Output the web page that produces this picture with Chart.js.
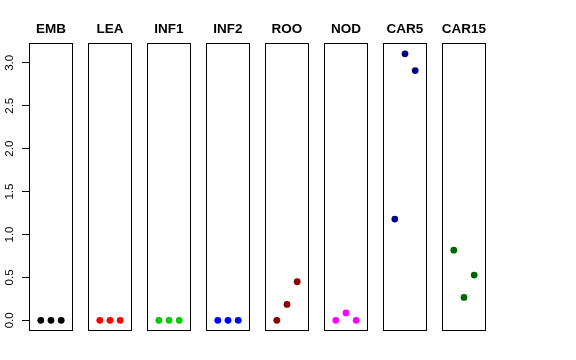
<!DOCTYPE html>
<html>
<head>
<meta charset="utf-8">
<script src="https://cdn.jsdelivr.net/npm/chart.js@4.4.0/dist/chart.umd.min.js"></script>
<style>
  body { margin: 0; background: #fff; }
  #wrap { position: relative; width: 576px; height: 360px; }
  #wrap canvas { position: absolute; top: 0; }
</style>
</head>
<body>
<div id="wrap"></div>
<script>
// panel names and point colours
const tissues = ['EMB', 'LEA', 'INF1', 'INF2', 'ROO', 'NOD', 'CAR5', 'CAR15']
const colors = ['#000000', '#FF0000', '#00CD00', '#0000FF', '#8B0000', '#FF00FF', '#00008B', '#006400']

// three replicates per panel
const xs = [1, 2, 3]
const emb = [0, 0, 0]
const lea = [0, 0, 0]
const inf1 = [0, 0, 0]
const inf2 = [0, 0, 0]
const roo = [0, 0.186, 0.45]
const nod = [0, 0.086, 0]
const car5 = [1.18, 3.105, 2.91]
const car15 = [0.818, 0.267, 0.528]
const series = [emb, lea, inf1, inf2, roo, nod, car5, car15]

const yTicks = [0, 0.5, 1, 1.5, 2, 2.5, 3]

const FONT = '"Liberation Sans", Arial, sans-serif'

const boxPlugin = {
  id: 'box',
  afterDraw(chart) {
    const a = chart.chartArea
    const ctx = chart.ctx
    ctx.save()
    ctx.strokeStyle = '#000'
    ctx.lineWidth = 1
    ctx.strokeRect(Math.round(a.left) + 0.5, Math.round(a.top) + 0.5,
      Math.round(a.right - a.left) - 1, Math.round(a.bottom - a.top) - 1)
    ctx.restore()
  }
}

const yLabelPlugin = {
  id: 'ylabels',
  afterDraw(chart) {
    const scale = chart.scales.y
    if (!scale.options.grid.display) return
    const ctx = chart.ctx
    ctx.save()
    ctx.fillStyle = '#000'
    ctx.font = '11.5px ' + FONT
    ctx.textAlign = 'center'
    ctx.textBaseline = 'middle'
    scale.ticks.forEach(t => {
      ctx.save()
      ctx.translate(scale.right - 19, scale.getPixelForValue(t.value))
      ctx.rotate(-Math.PI / 2)
      ctx.fillText(t.value.toFixed(1), 0, 0)
      ctx.restore()
    })
    ctx.restore()
  }
}

const wrap = document.getElementById('wrap')

tissues.forEach((name, i) => {
  const first = i === 0
  const canvas = document.createElement('canvas')
  canvas.width = 102
  canvas.height = 360
  canvas.style.left = (59 * i) + 'px'
  wrap.appendChild(canvas)

  new Chart(canvas, {
    type: 'scatter',
    data: {
      datasets: [{
        data: xs.map((x, j) => ({ x: x, y: series[i][j] })),
        backgroundColor: colors[i],
        borderWidth: 0,
        pointRadius: 3.4,
        clip: false
      }]
    },
    options: {
      responsive: false,
      animation: false,
      devicePixelRatio: 1,
      layout: { autoPadding: false, padding: { left: 0, right: 0, top: 0, bottom: 29 } },
      plugins: {
        legend: { display: false },
        tooltip: { enabled: false },
        title: {
          display: true,
          text: name,
          color: '#000',
          font: { family: FONT, size: 13.5, weight: 'bold' },
          padding: { top: 21, bottom: 6 }
        }
      },
      scales: {
        x: { type: 'linear', min: -0.16, max: 4.16, display: false },
        y: {
          type: 'linear',
          position: 'left',
          min: -0.124,
          max: 3.229,
          afterBuildTicks: s => { s.ticks = yTicks.map(v => ({ value: v })) },
          afterFit: s => { s.width = 29 },
          ticks: { display: false },
          grid: { display: first, drawOnChartArea: false, tickLength: 7, color: '#000', lineWidth: 1 },
          border: { display: false }
        },
        // empty right axis so every panel sits centred in its canvas
        y2: {
          type: 'linear',
          position: 'right',
          min: -0.124,
          max: 3.229,
          afterFit: s => { s.width = 29 },
          ticks: { display: false },
          grid: { display: false },
          border: { display: false }
        }
      }
    },
    plugins: [boxPlugin, yLabelPlugin]
  })
})
</script>
</body>
</html>
